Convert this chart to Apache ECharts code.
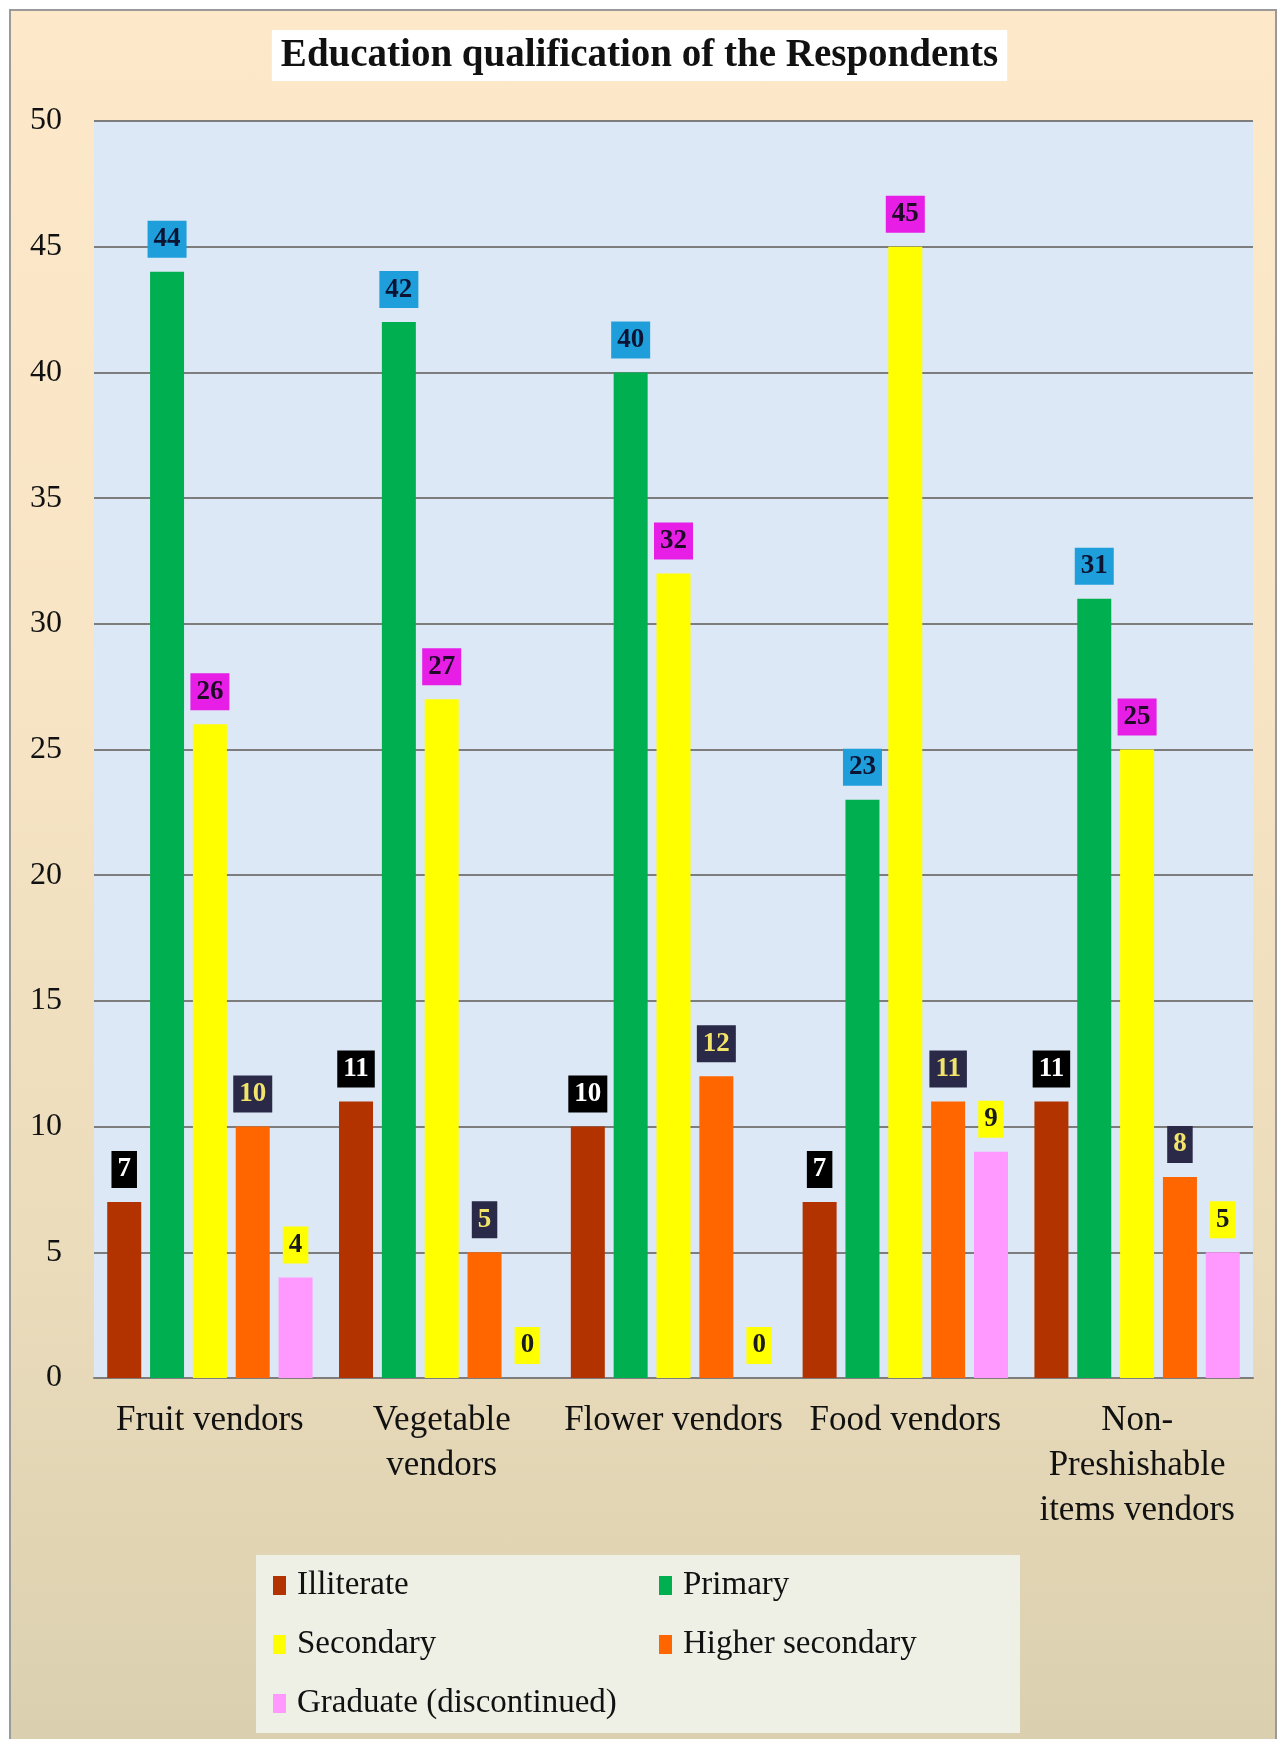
<!DOCTYPE html>
<html>
<head>
<meta charset="utf-8">
<script src="https://cdn.jsdelivr.net/npm/echarts@6/dist/echarts.min.js"></script>
<style>
  html, body { margin: 0; padding: 0; background: #ffffff; overflow: hidden; }
  #frame {
    position: absolute; left: 9px; top: 9px; width: 1264px; height: 1760px;
    border: 2px solid #9a9a9a; border-bottom: none;
    background: linear-gradient(to bottom, #fde9ca 0%, #f8e5c5 35%, #ebdcbc 70%, #d9cfae 100%);
  }
  #chart { position: absolute; left: 0; top: 0; width: 1279px; height: 1739px; }
</style>
</head>
<body>
<div id="frame"></div>
<div id="chart"></div>
<script>
// Categories of street vendors
const categories = [
  'Fruit vendors',
  'Vegetable\nvendors',
  'Flower vendors',
  'Food vendors',
  'Non-\nPreshishable\nitems vendors'
];

// Respondents by education level
const illiterate      = [7, 11, 10, 7, 11];
const primary         = [44, 42, 40, 23, 31];
const secondary       = [26, 27, 32, 45, 25];
const higherSecondary = [10, 5, 12, 11, 8];
const graduate        = [4, 0, 0, 9, 5];

// Value axis ticks
const yMin = 0;
const yMax = 50;
const yStep = 5;

const serif = '"Liberation Serif", "DejaVu Serif", serif';

// Bar fill plus the boxed value label style for each level
const levels = [
  { name: 'Illiterate',              data: illiterate,      bar: '#b23300', box: '#000000', ink: '#ffffff' },
  { name: 'Primary',                 data: primary,         bar: '#00b050', box: '#1e9fdc', ink: '#0b1533' },
  { name: 'Secondary',               data: secondary,       bar: '#ffff00', box: '#e61ee6', ink: '#1e0a26' },
  { name: 'Higher secondary',        data: higherSecondary, bar: '#ff6600', box: '#2a2a48', ink: '#f2e46a' },
  { name: 'Graduate (discontinued)', data: graduate,        bar: '#ff99ff', box: '#ffff00', ink: '#1a1a1a' }
];

const series = levels.map(l => ({
  name: l.name,
  type: 'bar',
  data: l.data,
  barWidth: 34,
  barGap: '26%',
  itemStyle: { color: l.bar },
  label: {
    show: true,
    position: 'top',
    distance: 14,
    fontFamily: serif,
    fontWeight: 'bold',
    fontSize: 27,
    lineHeight: 27,
    color: l.ink,
    backgroundColor: l.box,
    padding: [5, 6, 5, 6]
  }
}));

const chart = echarts.init(document.getElementById('chart'), null, { renderer: 'canvas' });

const legendText = {
  fontFamily: serif,
  fontSize: 33,
  lineHeight: 33,
  color: '#111111',
  padding: [0, 0, 0, 6]
};

chart.setOption({
  backgroundColor: 'transparent',
  animation: false,
  title: {
    text: 'Education qualification of the Respondents',
    left: 'center',
    top: 31,
    padding: [6, 9, 6, 9],
    backgroundColor: '#ffffff',
    textStyle: {
      fontFamily: serif,
      fontWeight: 'bold',
      fontSize: 39,
      lineHeight: 37,
      color: '#111111'
    }
  },
  graphic: [
    {
      type: 'rect',
      z: 0,
      shape: { x: 256, y: 1555, width: 764, height: 178 },
      style: { fill: '#eef0e5' }
    }
  ],
  legend: [
    {
      orient: 'vertical',
      left: 268,
      top: 1564,
      itemGap: 26,
      icon: 'rect',
      itemWidth: 13,
      itemHeight: 19,
      textStyle: legendText,
      data: ['Illiterate', 'Secondary', 'Graduate (discontinued)']
    },
    {
      orient: 'vertical',
      left: 654,
      top: 1564,
      itemGap: 26,
      icon: 'rect',
      itemWidth: 13,
      itemHeight: 19,
      textStyle: legendText,
      data: ['Primary', 'Higher secondary']
    }
  ],
  grid: {
    left: 94,
    right: 26,
    top: 121,
    bottom: 361,
    show: true,
    backgroundColor: '#dce8f5',
    borderWidth: 0,
    containLabel: false
  },
  xAxis: {
    type: 'category',
    data: categories,
    axisLine: { show: true, lineStyle: { color: '#7d7d7d', width: 2 } },
    axisTick: { show: false },
    axisLabel: {
      interval: 0,
      margin: 20,
      fontFamily: serif,
      fontSize: 35,
      lineHeight: 45,
      color: '#111111',
      align: 'center'
    }
  },
  yAxis: {
    type: 'value',
    min: yMin,
    max: yMax,
    interval: yStep,
    axisLine: { show: false },
    axisTick: { show: false },
    axisLabel: {
      margin: 32,
      fontFamily: serif,
      fontSize: 32,
      color: '#111111'
    },
    splitLine: { show: true, lineStyle: { color: '#7d7d7d', width: 2 } }
  },
  series: series
});
</script>
</body>
</html>
